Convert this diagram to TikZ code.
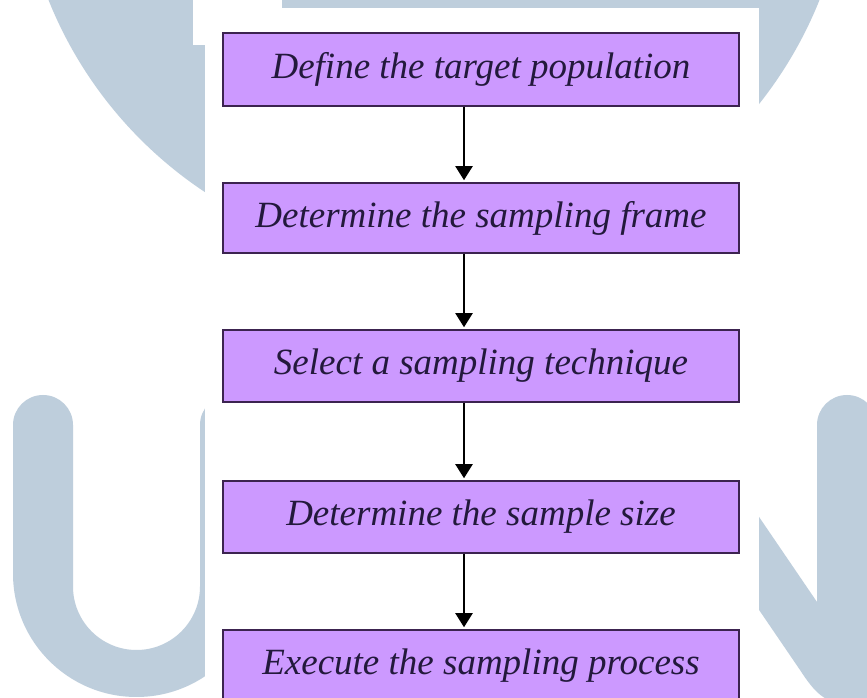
\documentclass[tikz,border=0pt]{standalone}
\usepackage{fontspec}
\setmainfont{Liberation Serif}
\usetikzlibrary{arrows.meta}
\definecolor{wm}{RGB}{190,206,220}
\definecolor{boxfill}{RGB}{204,153,255}
\definecolor{boxline}{RGB}{60,35,80}
\definecolor{txt}{RGB}{35,25,60}
\begin{document}
\begin{tikzpicture}[x=1pt,y=1pt,
  stepbox/.style={draw=boxline, line width=1.5pt, fill=boxfill, minimum width=516pt,
    inner sep=0pt, text=txt, font=\fontsize{37}{41}\selectfont\itshape},
  flow/.style={-{Triangle[length=14pt,width=17pt]}, line width=2pt, black, shorten >=2pt}]
\useasboundingbox (0,0) rectangle (867,698);
\clip (0,0) rectangle (867,698);
\fill[white] (0,0) rectangle (867,698);
% watermark
\fill[wm] (434,852) circle[radius=415];
\fill[wm] (13,273) arc[start angle=180,end angle=0,radius=30] -- (73,111.5)
  arc[start angle=180,end angle=360,radius=63.5] -- (200,273)
  arc[start angle=180,end angle=0,radius=30] -- (260,124.5)
  arc[start angle=0,end angle=-180,radius=123.5] -- cycle;
\fill[wm] (817,96) -- (817,273) arc[start angle=180,end angle=0,radius=30] -- (877,-5)
  -- (845,-5) .. controls (825,-5) and (815,5) .. (800,28) -- (740,116) -- (740,209) -- cycle;
% white panel
\fill[white] (205,0) rectangle (759,690);
\fill[white] (193,653) rectangle (282,698);
% flow
\node[stepbox, minimum height=73pt] (b1) at (481,628.5) {Define the target population};
\node[stepbox, minimum height=70pt] (b2) at (481,480) {Determine the sampling frame};
\node[stepbox, minimum height=72pt] (b3) at (481,332) {Select a sampling technique};
\node[stepbox, minimum height=72pt] (b4) at (481,181) {Determine the sample size};
\node[stepbox, minimum height=72pt] (b5) at (481,32) {Execute the sampling process};
\coordinate (ax) at (464,0);
\draw[flow] (b1.south -| ax) -- (b2.north -| ax);
\draw[flow] (b2.south -| ax) -- (b3.north -| ax);
\draw[flow] (b3.south -| ax) -- (b4.north -| ax);
\draw[flow] (b4.south -| ax) -- (b5.north -| ax);
\end{tikzpicture}
\end{document}
